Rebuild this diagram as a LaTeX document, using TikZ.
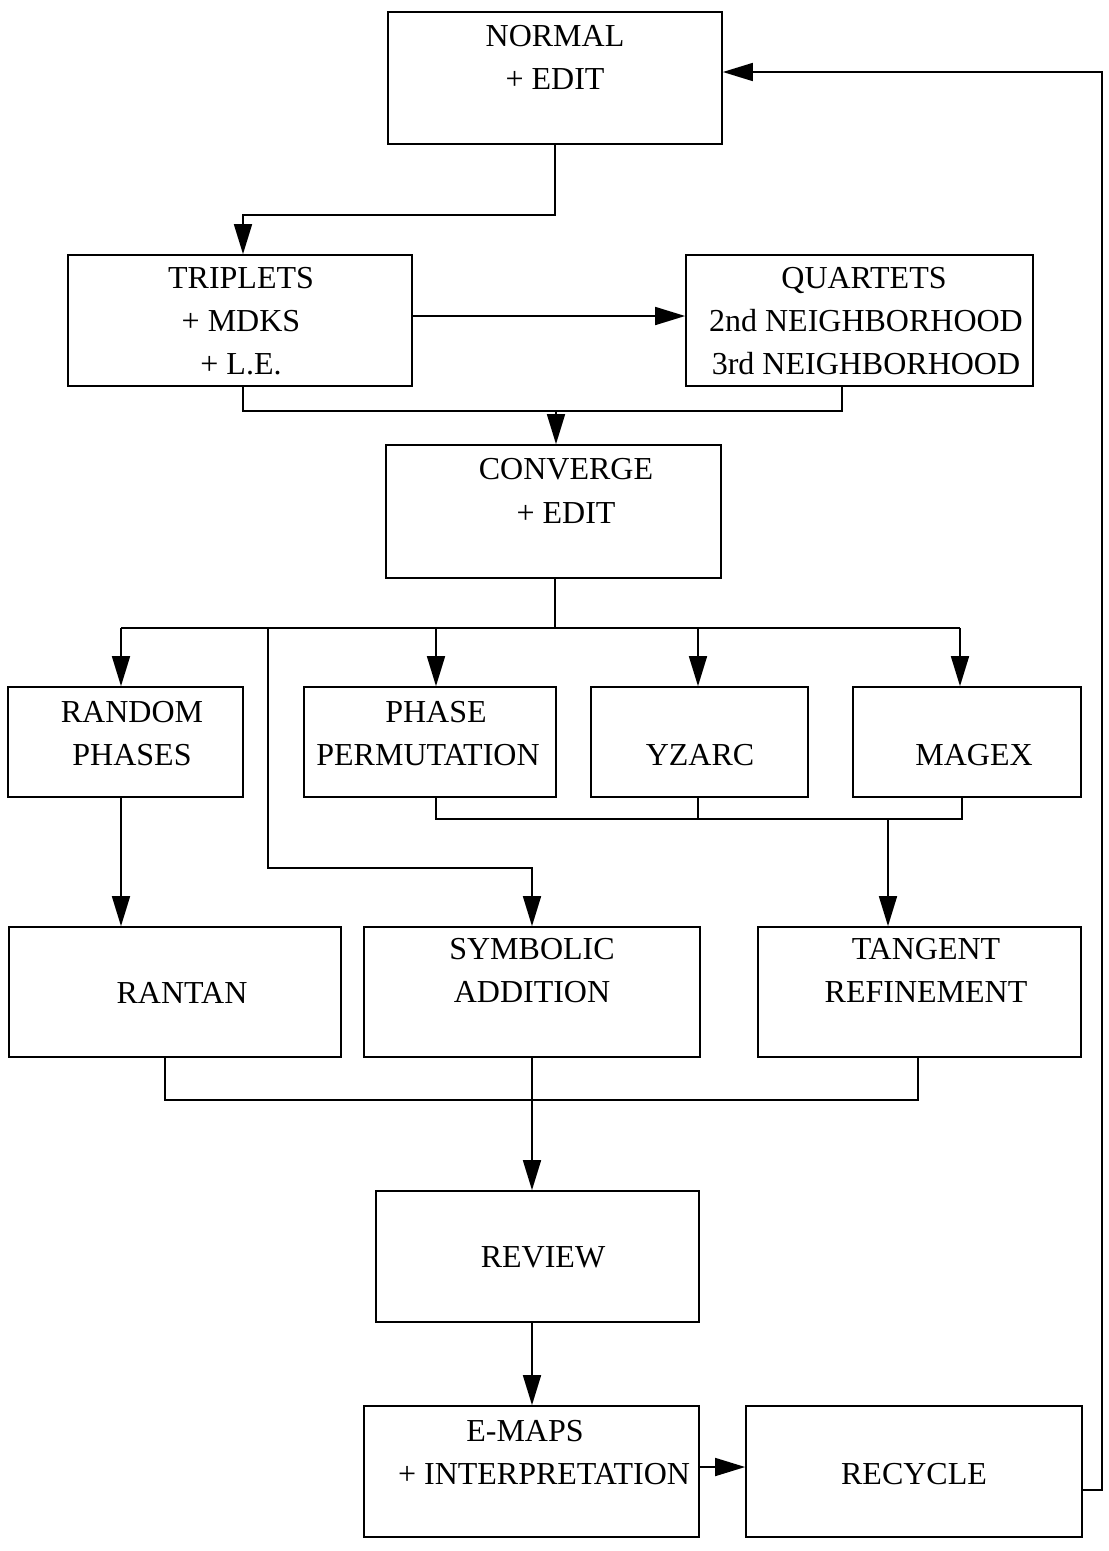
\documentclass[tikz,border=0pt]{standalone}
\usepackage{fontspec}
\setmainfont{Liberation Serif}
\usetikzlibrary{arrows.meta,fit}
\begin{document}
\begin{tikzpicture}[x=1pt,y=-1pt,
  box/.style={draw,line width=1.7pt,inner sep=0pt},
  lbl/.style={anchor=base,inner sep=0pt,font=\fontsize{32}{38}\selectfont},
  wire/.style={line width=1.7pt},
  arr/.style={wire,-{Triangle[length=30pt,width=18pt]}}]
\useasboundingbox (0,0) rectangle (1109,1551);

% boxes
\node[box,fit={(388,12)(722,144)}] (normal) {};
\node[box,fit={(68,255)(412,386)}] (trip) {};
\node[box,fit={(686,255)(1033,386)}] (quart) {};
\node[box,fit={(386,445)(721,578)}] (conv) {};
\node[box,fit={(8,687)(243,797)}] (rand) {};
\node[box,fit={(304,687)(556,797)}] (perm) {};
\node[box,fit={(591,687)(808,797)}] (yzarc) {};
\node[box,fit={(853,687)(1081,797)}] (magex) {};
\node[box,fit={(9,927)(341,1057)}] (rantan) {};
\node[box,fit={(364,927)(700,1057)}] (symb) {};
\node[box,fit={(758,927)(1081,1057)}] (tang) {};
\node[box,fit={(376,1191)(699,1322)}] (review) {};
\node[box,fit={(364,1406)(699,1537)}] (emaps) {};
\node[box,fit={(746,1406)(1082,1537)}] (recycle) {};

% labels
\node[lbl] (tn1) at (555,46) {NORMAL};
\node[lbl] (tn2) at (555,89) {+ EDIT};
\node[lbl] (tt1) at (241,288) {TRIPLETS};
\node[lbl] (tt2) at (241,331) {+ MDKS};
\node[lbl] (tt3) at (241,374) {+ L.E.};
\node[lbl] (tq1) at (864,288) {QUARTETS};
\node[lbl] (tq2) at (866,331) {2nd NEIGHBORHOOD};
\node[lbl] (tq3) at (866,374) {3rd NEIGHBORHOOD};
\node[lbl] (tc1) at (566,479) {CONVERGE};
\node[lbl] (tc2) at (566,523) {+ EDIT};
\node[lbl] (tr1) at (132,722) {RANDOM};
\node[lbl] (tr2) at (132,765) {PHASES};
\node[lbl] (tp1) at (436,722) {PHASE};
\node[lbl] (tp2) at (428,765) {PERMUTATION};
\node[lbl] (ty1) at (700,765) {YZARC};
\node[lbl] (tm1) at (974,765) {MAGEX};
\node[lbl] (tra) at (182,1003) {RANTAN};
\node[lbl] (ts1) at (532,959) {SYMBOLIC};
\node[lbl] (ts2) at (532,1002) {ADDITION};
\node[lbl] (tg1) at (926,959) {TANGENT};
\node[lbl] (tg2) at (926,1002) {REFINEMENT};
\node[lbl] (trv) at (543,1267) {REVIEW};
\node[lbl] (te1) at (525,1441) {E-MAPS};
\node[lbl] (te2) at (544,1484) {+ INTERPRETATION};
\node[lbl] (trc) at (914,1484) {RECYCLE};

% coordinates
\coordinate (n1) at (555,215);
\coordinate (n2) at (243,215);
\coordinate (h1) at (0,316);
\coordinate (j0) at (243,411);
\coordinate (j1) at (556,411);
\coordinate (j2) at (842,411);
\coordinate (b0) at (555,628);
\coordinate (b1) at (121,628);
\coordinate (b2) at (268,628);
\coordinate (b3) at (436,628);
\coordinate (b4) at (698,628);
\coordinate (b5) at (960,628);
\coordinate (s1) at (268,868);
\coordinate (s2) at (532,868);
\coordinate (k1) at (436,819);
\coordinate (k2) at (698,819);
\coordinate (k3) at (962,819);
\coordinate (k4) at (888,819);
\coordinate (c1) at (121,0);
\coordinate (m1) at (165,1100);
\coordinate (m2) at (532,1100);
\coordinate (m3) at (918,1100);
\coordinate (e1) at (0,1467);
\coordinate (r1) at (1102,1490);
\coordinate (r2) at (1102,72);

% connectors
\draw[arr] (normal.south -| n1) -- (n1) -- (n2) -- (n2 |- trip.north);
\draw[arr] (trip.east |- h1) -- (quart.west |- h1);
\draw[wire] (j0 |- trip.south) -- (j0) -- (j2) -- (j2 |- quart.south);
\draw[arr] (j1) -- (j1 |- conv.north);
\draw[wire] (b0 |- conv.south) -- (b0);
\draw[wire] (b1) -- (b5);
\draw[arr] (b1) -- (b1 |- rand.north);
\draw[arr] (b3) -- (b3 |- perm.north);
\draw[arr] (b4) -- (b4 |- yzarc.north);
\draw[arr] (b5) -- (b5 |- magex.north);
\draw[arr] (b2) -- (s1) -- (s2) -- (s2 |- symb.north);
\draw[wire] (k1 |- perm.south) -- (k1) -- (k3) -- (k3 |- magex.south);
\draw[wire] (k2 |- yzarc.south) -- (k2);
\draw[arr] (k4) -- (k4 |- tang.north);
\draw[arr] (c1 |- rand.south) -- (c1 |- rantan.north);
\draw[wire] (m1 |- rantan.south) -- (m1) -- (m3) -- (m3 |- tang.south);
\draw[arr] (m2 |- symb.south) -- (m2 |- review.north);
\draw[arr] (m2 |- review.south) -- (m2 |- emaps.north);
\draw[arr] (emaps.east |- e1) -- (recycle.west |- e1);
\draw[arr] (recycle.east |- r1) -- (r1) -- (r2) -- (r2 -| normal.east);
\end{tikzpicture}
\end{document}
